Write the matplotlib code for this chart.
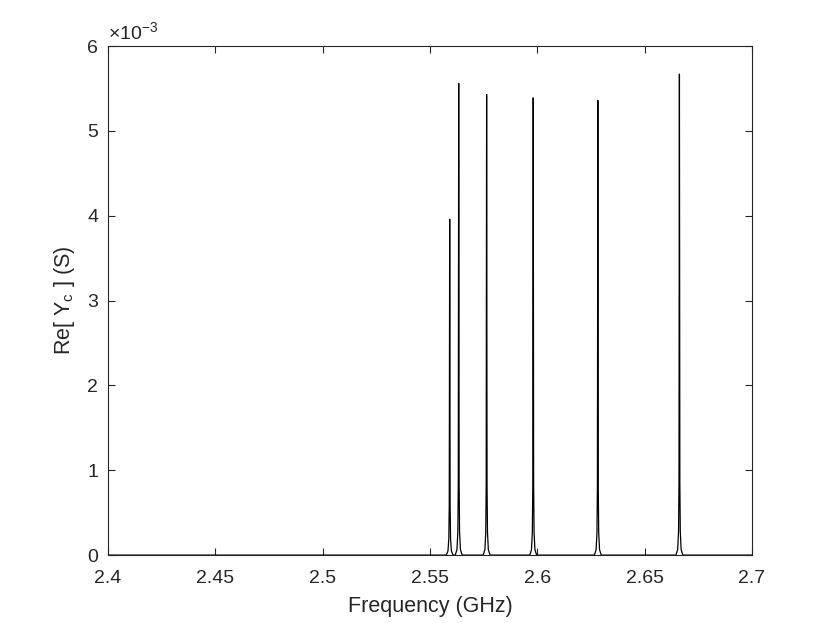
import numpy as np
import matplotlib.pyplot as plt
from matplotlib.ticker import FuncFormatter

# resonance peaks
peak_freq = [2.5592, 2.5634, 2.5764, 2.5981, 2.6282, 2.6662]   # GHz
peak_height = [3.96e-3, 5.56e-3, 5.43e-3, 5.39e-3, 5.36e-3, 5.67e-3]  # S

# shape of a single peak around its centre
shape_offset = [-0.0016, -0.0008, -0.0004, -0.0002, 0.0, 0.0002, 0.0004, 0.0008, 0.0016]
shape_frac = [0.0, 0.012, 0.05, 0.15, 1.0, 0.15, 0.05, 0.012, 0.0]

x_start, x_end = 2.4, 2.7

freq = [x_start]
re_y = [0.0]
for f0, h in zip(peak_freq, peak_height):
    for d, s in zip(shape_offset, shape_frac):
        freq.append(f0 + d)
        re_y.append(h * s)
freq.append(x_end)
re_y.append(0.0)

plt.rcParams['font.family'] = ['Liberation Sans', 'DejaVu Sans']
plt.rcParams['mathtext.fontset'] = 'custom'
plt.rcParams['mathtext.rm'] = 'Liberation Sans'

fig = plt.figure(figsize=(8.3, 6.23), dpi=100)
ax = fig.add_axes([0.130, 0.109, 0.776, 0.817])

ax.plot(freq, re_y, color='black', linewidth=0.9)

ax.set_xlim(x_start, x_end)
ax.set_ylim(0, 6e-3)
ax.set_xticks(np.arange(2.4, 2.701, 0.05))
ax.set_xticklabels(['2.4', '2.45', '2.5', '2.55', '2.6', '2.65', '2.7'])
ax.set_yticks(np.arange(0, 6.01e-3, 1e-3))
ax.yaxis.set_major_formatter(FuncFormatter(lambda v, p: '%g' % round(v * 1e3, 6)))

edge = '#262626'
for sp in ax.spines.values():
    sp.set_color(edge)
    sp.set_linewidth(0.8)
ax.tick_params(direction='in', top=True, right=True, length=5, width=0.8,
               colors=edge, labelsize=14, labelcolor=edge)
ax.tick_params(axis='x', pad=11)
ax.tick_params(axis='y', pad=7)

ax.set_xlabel('Frequency (GHz)', fontsize=15.5, color=edge, labelpad=6)
ax.set_ylabel(r'Re[ Y$_\mathrm{c}$ ] (S)', fontsize=15.5, color=edge, labelpad=7)
ax.text(0.0, 1.004, r'$\times$10$^{\mathrm{-3}}$', transform=ax.transAxes,
        fontsize=14, color=edge, ha='left', va='bottom')

fig.savefig('out.png', dpi=100)
